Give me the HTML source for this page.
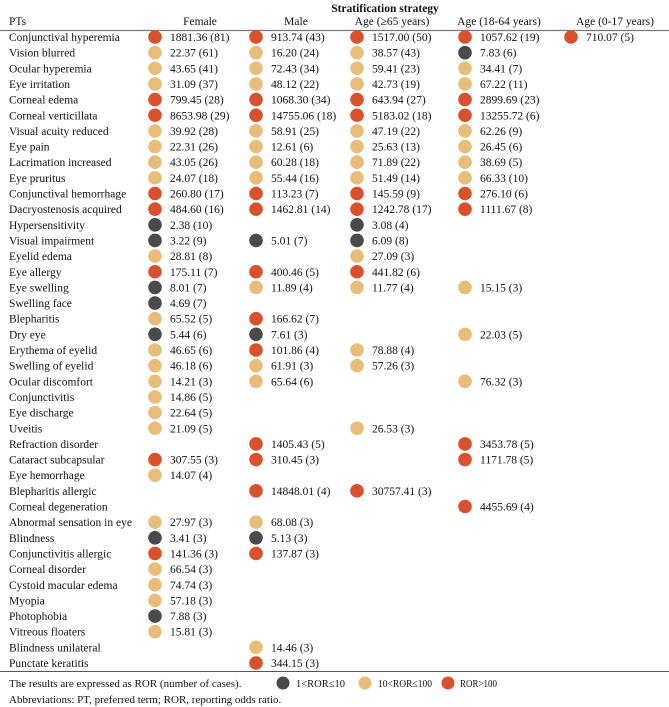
<!DOCTYPE html>
<html><head><meta charset="utf-8"><style>
html,body{margin:0;padding:0;background:#fff;}
svg{display:block;font-family:"Liberation Serif",serif;}
</style></head><body>
<svg id="chart" width="669" height="707" viewBox="0 0 669 707" xmlns="http://www.w3.org/2000/svg">
<text x="385" y="12" font-size="11.5" font-weight="bold" text-anchor="middle" fill="#111">Stratification strategy</text>
<text x="9" y="25" font-size="11.5" fill="#111">PTs</text>
<text x="200" y="25" font-size="11.5" text-anchor="middle" fill="#111">Female</text>
<text x="296" y="25" font-size="11.5" text-anchor="middle" fill="#111">Male</text>
<text x="392" y="25" font-size="11.5" text-anchor="middle" fill="#111">Age (≥65 years)</text>
<text x="499" y="25" font-size="11.5" text-anchor="middle" fill="#111">Age (18-64 years)</text>
<text x="615" y="25" font-size="11.5" text-anchor="middle" fill="#111">Age (0-17 years)</text>
<line x1="0" y1="30.5" x2="669" y2="30.5" stroke="#777" stroke-width="1.3"/>
<line x1="0" y1="671.5" x2="669" y2="671.5" stroke="#555" stroke-width="1"/>
<text x="9" y="687" font-size="11" fill="#111">The results are expressed as ROR (number of cases).</text>
<text x="9" y="703" font-size="11" fill="#111">Abbreviations: PT, preferred term; ROR, reporting odds ratio.</text>
<g>
<circle cx="283" cy="683" r="6.5" fill="#4a4a4a"/>
<text x="296" y="687" font-size="11" fill="#111" textLength="49" lengthAdjust="spacingAndGlyphs">1&lt;ROR≤10</text>
<circle cx="365" cy="683" r="6.5" fill="#e8bd7a"/>
<text x="378" y="687" font-size="11" fill="#111" textLength="54" lengthAdjust="spacingAndGlyphs">10&lt;ROR≤100</text>
<circle cx="448" cy="683" r="6.5" fill="#d9512c"/>
<text x="460" y="687" font-size="11" fill="#111" textLength="37" lengthAdjust="spacingAndGlyphs">ROR&gt;100</text>
</g>
<g id="rows"></g>
</svg>
<script>
const pts = ["Conjunctival hyperemia","Vision blurred","Ocular hyperemia","Eye irritation","Corneal edema","Corneal verticillata","Visual acuity reduced","Eye pain","Lacrimation increased","Eye pruritus","Conjunctival hemorrhage","Dacryostenosis acquired","Hypersensitivity","Visual impairment","Eyelid edema","Eye allergy","Eye swelling","Swelling face","Blepharitis","Dry eye","Erythema of eyelid","Swelling of eyelid","Ocular discomfort","Conjunctivitis","Eye discharge","Uveitis","Refraction disorder","Cataract subcapsular","Eye hemorrhage","Blepharitis allergic","Corneal degeneration","Abnormal sensation in eye","Blindness","Conjunctivitis allergic","Corneal disorder","Cystoid macular edema","Myopia","Photophobia","Vitreous floaters","Blindness unilateral","Punctate keratitis"];
const N = null;
const femaleRor = [1881.36,22.37,43.65,31.09,799.45,8653.98,39.92,22.31,43.05,24.07,260.80,484.60,2.38,3.22,28.81,175.11,8.01,4.69,65.52,5.44,46.65,46.18,14.21,14.86,22.64,21.09,N,307.55,14.07,N,N,27.97,3.41,141.36,66.54,74.74,57.18,7.88,15.81,N,N];
const femaleN = [81,61,41,37,28,29,28,26,26,18,17,16,10,9,8,7,7,7,5,6,6,6,3,5,5,5,N,3,4,N,N,3,3,3,3,3,3,3,3,N,N];
const maleRor = [913.74,16.20,72.43,48.12,1068.30,14755.06,58.91,12.61,60.28,55.44,113.23,1462.81,N,5.01,N,400.46,11.89,N,166.62,7.61,101.86,61.91,65.64,N,N,N,1405.43,310.45,N,14848.01,N,68.08,5.13,137.87,N,N,N,N,N,14.46,344.15];
const maleN = [43,24,34,22,34,18,25,6,18,16,7,14,N,7,N,5,4,N,7,3,4,3,6,N,N,N,5,3,N,4,N,3,3,3,N,N,N,N,N,3,3];
const age65Ror = [1517.00,38.57,59.41,42.73,643.94,5183.02,47.19,25.63,71.89,51.49,145.59,1242.78,3.08,6.09,27.09,441.82,11.77,N,N,N,78.88,57.26,N,N,N,26.53,N,N,N,30757.41,N,N,N,N,N,N,N,N,N,N,N];
const age65N = [50,43,23,19,27,18,22,13,22,14,9,17,4,8,3,6,4,N,N,N,4,3,N,N,N,3,N,N,N,3,N,N,N,N,N,N,N,N,N,N,N];
const age18Ror = [1057.62,7.83,34.41,67.22,2899.69,13255.72,62.26,26.45,38.69,66.33,276.10,1111.67,N,N,N,N,15.15,N,N,22.03,N,N,76.32,N,N,N,3453.78,1171.78,N,N,4455.69,N,N,N,N,N,N,N,N,N,N];
const age18N = [19,6,7,11,23,6,9,6,5,10,6,8,N,N,N,N,3,N,N,5,N,N,3,N,N,N,5,5,N,N,4,N,N,N,N,N,N,N,N,N,N];
const age0Ror = [710.07,N,N,N,N,N,N,N,N,N,N,N,N,N,N,N,N,N,N,N,N,N,N,N,N,N,N,N,N,N,N,N,N,N,N,N,N,N,N,N,N];
const age0N = [5,N,N,N,N,N,N,N,N,N,N,N,N,N,N,N,N,N,N,N,N,N,N,N,N,N,N,N,N,N,N,N,N,N,N,N,N,N,N,N,N];

const columns = [
  {key:"female", ror:femaleRor, n:femaleN, dot:155},
  {key:"male", ror:maleRor, n:maleN, dot:256},
  {key:"age-65", ror:age65Ror, n:age65N, dot:357},
  {key:"age-18-64", ror:age18Ror, n:age18N, dot:465},
  {key:"age-0-17", ror:age0Ror, n:age0N, dot:571}
];
const rowY = i => 37 + i * 15.65;
function colorFor(v){ return v > 100 ? "#d9512c" : (v > 10 ? "#e8bd7a" : "#4a4a4a"); }
const NS = "http://www.w3.org/2000/svg";
const g = document.getElementById("rows");
pts.forEach((name, i) => {
  const y = rowY(i);
  const t = document.createElementNS(NS, "text");
  
  
  t.setAttribute("x", 9); t.setAttribute("y", y + 4);
  t.setAttribute("font-size", "11.5"); t.setAttribute("fill", "#111");
  t.textContent = name;
  g.appendChild(t);
  columns.forEach(c => {
    const v = c.ror[i];
    if (v === null || v === undefined) return;
    const dot = document.createElementNS(NS, "circle");
    
    
    dot.setAttribute("cx", c.dot); dot.setAttribute("cy", y);
    dot.setAttribute("r", 6.8); dot.setAttribute("fill", colorFor(v));
    g.appendChild(dot);
    const lbl = document.createElementNS(NS, "text");
    
    
    lbl.setAttribute("x", c.dot + 15); lbl.setAttribute("y", y + 4);
    lbl.setAttribute("font-size", "11.5"); lbl.setAttribute("fill", "#111");
    lbl.textContent = v.toFixed(2) + " (" + c.n[i] + ")";
    g.appendChild(lbl);
  });
});
</script>
</body></html>
